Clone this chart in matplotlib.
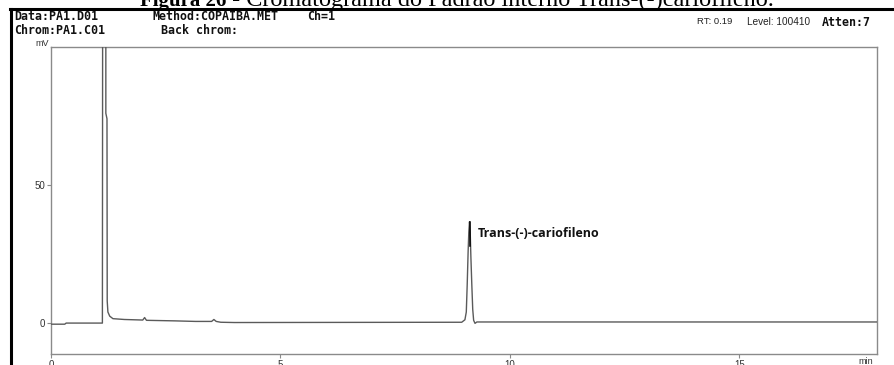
import matplotlib
matplotlib.use("Agg")
import matplotlib.pyplot as plt
from matplotlib.lines import Line2D

# ─── Trace (time in min, signal in mV) ──────────────────────────────────
TIME = [0.00, 0.30, 0.33, 1.12, 1.125, 1.195, 1.195, 1.22, 1.225, 1.24,
        1.28, 1.35, 1.60, 2.00, 2.04, 2.08, 2.70, 3.15, 3.50, 3.55,
        3.60, 3.70, 4.00, 8.95, 9.02, 9.05, 9.07, 9.09, 9.105, 9.12,
        9.135, 9.15, 9.17, 9.19, 9.21, 9.24, 9.28, 18.0]
SIGNAL = [-0.4, -0.4, 0.0, 0.0, 105.0, 105.0, 76.0, 74.0, 8.0, 4.0,
          2.5, 1.6, 1.3, 1.1, 2.0, 1.0, 0.8, 0.6, 0.6, 1.3,
          0.6, 0.3, 0.2, 0.3, 1.2, 4.0, 14.0, 26.0, 33.0, 36.7,
          33.0, 24.0, 14.0, 5.0, 1.0, -0.1, 0.4, 0.4]

PEAK_T, PEAK_H = 9.12, 36.7
PEAK_LABEL = "Trans-(-)-cariofileno"

X_TICKS = [0, 5, 10, 15]
Y_TICKS = [0, 50]

W, H = 895, 365
fig = plt.figure(figsize=(W / 100, H / 100), dpi=100)
fig.patch.set_facecolor("white")

# plot box in pixel terms
L, T, R, B = 51, 47, 877, 354
ax = fig.add_axes([L / W, 1 - B / H, (R - L) / W, (B - T) / H])

ax.plot(TIME, SIGNAL, color="#5a5a5a", lw=1.0, zorder=3)
ax.plot([PEAK_T, PEAK_T], [PEAK_H, 28], color="black", lw=1.1, zorder=4)
ax.text(PEAK_T + 0.18, 32.6, PEAK_LABEL, fontsize=9, fontweight="bold",
        family="Open Sans", va="center", ha="left", color="#111")

ax.set_xlim(0, 18)
ax.set_ylim(-11.2, 100)
ax.set_xticks(X_TICKS)
ax.set_yticks(Y_TICKS)
for s in ax.spines.values():
    s.set_color("#8a8a8a")
    s.set_linewidth(1.0)
ax.tick_params(direction="out", length=3, width=0.8, color="#8a8a8a",
               labelsize=7, labelcolor="#333", pad=1)
for lab in ax.get_xticklabels() + ax.get_yticklabels():
    lab.set_family("Liberation Sans")

fig.text(L / W - 0.002, 1 - 44 / H, "mV", fontsize=6.5, ha="right",
         va="center", family="Liberation Sans", color="#333")
fig.text(866 / W, 1 - 362 / H, "min", fontsize=6.5, ha="center",
         va="center", family="Liberation Sans", color="#333")

# ─── Header block ───────────────────────────────────────────────────────
mono = dict(family="DejaVu Sans Mono", fontweight="bold", fontsize=8.4,
            va="center", ha="left", color="#111")
fig.text(14 / W, 1 - 16 / H, "Data:PA1.D01", **mono)
fig.text(14 / W, 1 - 30 / H, "Chrom:PA1.C01", **mono)
fig.text(153 / W, 1 - 16 / H, "Method:COPAIBA.MET", **mono)
fig.text(307 / W, 1 - 16 / H, "Ch=1", **mono)
fig.text(161 / W, 1 - 30 / H, "Back chrom:", **mono)
fig.text(822 / W, 1 - 22 / H, "Atten:7", **mono)
fig.text(697 / W, 1 - 22 / H, "RT: 0.19", fontsize=6.8, va="center",
         family="Liberation Sans", color="#222")
fig.text(747 / W, 1 - 22 / H, "Level: 100410", fontsize=7.2, va="center",
         family="Liberation Sans", color="#222")

# ─── Clipped caption and frame of the scanned page ─────────────────────
fig.text(140 / W, 1 - 6 / H, "Figura 26", fontsize=15, fontweight="bold",
         family="Liberation Serif", va="baseline", ha="left")
fig.text(226 / W, 1 - 6 / H,
         " - Cromatograma do Padrão interno Trans-(-)cariofileno.",
         fontsize=17.5, family="Liberation Serif", va="baseline", ha="left")
fig.add_artist(Line2D([10 / W, 1], [1 - 8.5 / H] * 2, color="black",
                      lw=2.2, transform=fig.transFigure))
fig.add_artist(Line2D([11.5 / W] * 2, [0, 1 - 8.5 / H], color="black",
                      lw=2.2, transform=fig.transFigure))

fig.savefig("out.png", dpi=100, facecolor="white")
